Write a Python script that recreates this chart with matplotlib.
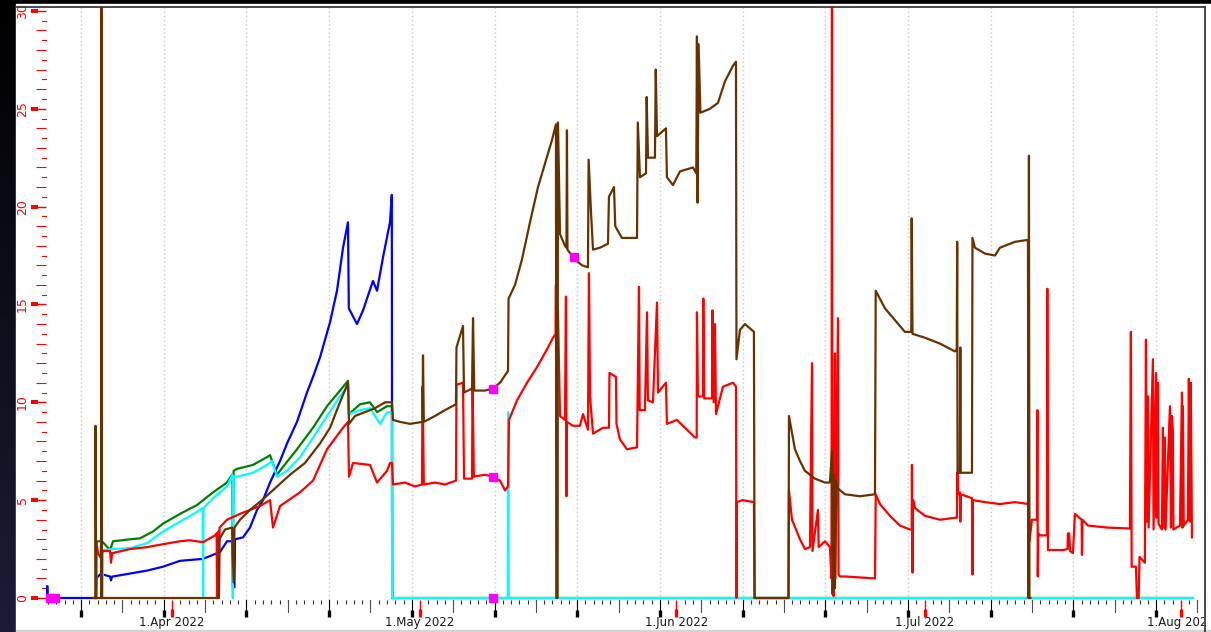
import numpy as np
import pandas as pd
import matplotlib
matplotlib.use("Agg")
import matplotlib.pyplot as plt
import matplotlib.dates as mdates
import matplotlib.transforms as mtransforms
from matplotlib.lines import Line2D
from matplotlib.patches import Rectangle
from matplotlib.colors import LinearSegmentedColormap
from matplotlib.ticker import MultipleLocator

BASE = pd.Timestamp("2022-04-01")

# (days since 1 Apr 2022, value)
brown_points = [
    (-9.55, 0), (-9.25, 0), (-9.25, 8.8), (-9.2, 0), (-8.55, 0), (-8.52, 31), (-8.48, 0),
    (5.68, 0), (5.72, 3.0), (6.41, 3.5), (7.26, 3.6), (7.45, 0.8), (7.55, 3.6), (8.22, 4.0),
    (9.43, 4.5), (10.88, 5.0), (12.45, 5.6), (14.27, 6.3), (16.08, 6.9), (17.90, 7.9),
    (19.11, 8.7), (20.31, 10.0), (21.28, 11.0), (21.40, 8.9), (22.13, 9.3), (23.34, 9.5),
    (24.55, 9.7), (25.76, 10.0), (26.60, 10.0), (26.72, 9.1), (27.57, 9.0), (28.78, 8.9),
    (30.30, 9.0), (30.35, 12.4), (30.45, 9.0), (31.80, 9.3), (33.01, 9.6), (34.34, 9.9),
    (34.40, 12.8), (35.19, 13.9), (35.31, 10.5), (36.28, 10.7), (36.40, 14.3), (36.55, 10.6),
    (37.85, 10.6), (38.81, 10.7), (39.66, 11.0), (40.63, 11.6), (40.70, 15.3), (41.48, 16.0),
    (42.32, 17.3), (43.29, 19.2), (44.26, 21.0), (45.10, 22.2), (45.95, 23.4), (46.43, 24.2),
    (46.47, 0), (46.63, 0), (46.67, 24.3), (46.92, 18.6), (47.52, 18.0), (47.70, 17.9),
    (47.76, 23.9), (47.82, 17.8), (48.73, 17.3), (49.58, 17.0), (50.30, 16.9), (50.38, 22.4),
    (50.67, 19.7), (50.91, 17.8), (51.75, 17.9), (52.72, 18.1), (52.84, 20.5), (53.45, 21.0),
    (53.60, 19.0), (54.41, 18.4), (56.23, 18.4), (56.33, 24.3), (56.59, 21.5), (57.32, 21.7),
    (57.40, 25.6), (57.56, 22.5), (58.40, 22.5), (58.50, 27.0), (58.65, 23.6), (59.73, 24.0),
    (59.85, 21.5), (60.58, 21.1), (61.43, 21.8), (63.00, 22.0), (63.40, 21.7), (63.48, 28.7),
    (63.56, 20.2), (63.68, 28.3), (63.90, 24.8), (65.06, 25.0), (66.02, 25.3), (66.87, 26.4),
    (67.84, 27.2), (68.20, 27.4), (68.26, 12.2), (68.68, 13.7), (69.29, 14.0), (70.37, 13.6),
    (70.45, 0), (74.55, 0), (74.61, 9.3), (75.33, 7.6), (75.94, 7.0), (76.54, 6.5),
    (77.75, 6.1), (78.96, 5.9), (79.56, 5.9), (79.81, 7.5), (79.93, 0.3), (80.05, 6.3),
    (80.17, 0.5), (80.29, 6.0), (80.53, 5.6), (81.38, 5.3), (83.19, 5.2), (85.01, 5.3),
    (85.10, 15.7), (86.22, 14.8), (87.42, 14.2), (88.63, 13.6), (89.40, 13.6), (89.45, 19.4),
    (89.55, 13.5), (91.05, 13.3), (92.87, 13.0), (94.68, 12.6), (94.90, 12.7), (94.95, 18.2),
    (95.00, 6.4), (95.28, 6.4), (95.33, 12.8), (95.38, 6.4), (96.74, 6.4), (96.80, 18.4),
    (97.10, 17.9), (98.31, 17.6), (99.52, 17.5), (100.12, 17.9), (101.93, 18.2), (103.51, 18.3),
    (103.57, 0), (103.63, 22.6), (103.69, 0), (103.8, 0),
]

red_points = [
    (-9.19, 0), (-9.15, 2.9), (-8.95, 2.3), (-8.71, 2.1), (-8.34, 2.4), (-7.50, 2.4),
    (-7.38, 1.8), (-7.25, 2.3), (-7.13, 2.3), (-5.08, 2.5), (-3.02, 2.6), (-1.09, 2.75),
    (0.97, 2.9), (2.18, 2.95), (3.75, 2.85), (5.20, 3.2), (5.40, 3.3), (5.44, 0), (5.50, 3.3),
    (5.62, 3.4), (5.66, 0), (5.75, 3.6), (6.65, 4.0), (8.22, 4.3), (10.64, 4.7), (11.85, 5.0),
    (12.21, 3.6), (13.06, 4.7), (15.48, 5.4), (17.05, 6.0), (18.74, 7.6), (20.68, 8.7),
    (21.28, 9.0), (21.40, 6.2), (21.89, 6.9), (23.94, 6.8), (24.79, 5.9), (26.0, 6.5),
    (26.36, 6.9), (26.60, 6.9), (26.72, 5.8), (28.17, 5.9), (29.38, 5.7), (30.23, 5.8),
    (30.30, 10.8), (30.45, 5.8), (31.80, 5.9), (33.01, 5.8), (34.34, 6.0), (34.40, 10.9),
    (35.19, 11.0), (35.31, 6.1), (36.28, 6.1), (36.35, 10.9), (36.50, 6.2), (37.85, 6.3),
    (38.81, 6.2), (39.66, 6.0), (40.27, 5.5), (40.63, 5.7), (40.75, 9.1), (41.72, 10.1),
    (42.93, 11.0), (44.14, 11.8), (45.34, 12.7), (46.07, 13.3), (46.40, 13.5), (46.43, 16.0),
    (46.46, 7.4), (46.55, 14.7), (46.67, 14.7), (46.92, 9.3), (47.52, 9.1), (47.64, 15.4),
    (47.70, 5.2), (47.76, 9.0), (48.49, 8.8), (49.33, 8.8), (49.70, 9.4), (50.30, 8.6),
    (50.42, 16.6), (50.55, 10.3), (50.91, 8.4), (52.12, 8.7), (52.84, 8.7), (52.90, 11.5),
    (53.69, 11.3), (53.75, 8.9), (54.17, 8.1), (55.02, 7.6), (56.23, 7.7), (56.47, 15.9),
    (56.55, 9.6), (57.19, 9.6), (57.44, 14.6), (57.55, 10.1), (58.16, 10.0), (58.65, 15.1),
    (58.77, 10.5), (59.73, 11.0), (59.85, 8.9), (61.06, 9.1), (62.27, 8.6), (63.24, 8.2),
    (63.45, 8.2), (63.48, 14.6), (63.60, 10.3), (64.21, 10.3), (64.25, 15.3), (64.35, 10.2),
    (65.30, 10.2), (65.35, 14.7), (65.50, 10.0), (65.66, 14.0), (65.78, 9.4), (66.63, 10.8),
    (67.84, 11.0), (68.20, 10.8), (68.26, 0), (68.32, 4.9), (69.0, 5.0), (70.37, 4.9),
    (70.45, 0), (74.55, 0), (74.61, 5.5), (74.97, 4.0), (75.94, 3.0), (76.54, 2.5),
    (77.15, 2.6), (77.39, 12.0), (77.45, 2.4), (78.11, 4.5), (78.2, 2.6), (78.96, 2.9),
    (79.56, 2.6), (79.75, 1.0), (79.81, 31), (79.85, 0.2), (79.93, 6.0), (80.0, 0.1),
    (80.17, 12.5), (80.22, 1.0), (80.53, 14.3), (80.60, 1.2), (80.77, 1.1), (81.38, 1.1),
    (83.19, 1.05), (85.01, 1.0), (85.10, 5.3), (85.61, 4.8), (86.82, 4.2), (88.03, 3.7),
    (89.24, 3.5), (89.45, 3.5), (89.48, 6.8), (89.55, 1.3), (89.62, 5.0), (89.84, 4.6),
    (91.05, 4.2), (92.87, 4.0), (94.68, 4.1), (94.92, 4.1), (94.97, 6.4), (95.04, 5.3),
    (95.28, 5.4), (95.33, 3.9), (95.40, 5.3), (96.74, 5.1), (96.80, 1.2), (96.86, 5.0),
    (98.31, 4.9), (100.12, 4.8), (101.93, 4.9), (103.63, 4.8), (103.70, 2.9), (103.99, 4.0),
    (104.59, 4.0), (104.65, 9.6), (104.70, 1.1), (104.75, 3.3), (104.96, 3.2), (105.80, 3.2),
    (105.85, 15.8), (105.93, 2.45), (107.74, 2.45), (108.30, 2.5), (108.34, 3.3), (108.5, 3.3),
    (108.6, 2.4), (108.95, 2.3), (109.19, 4.3), (110.0, 4.0), (110.04, 2.2), (110.1, 4.0),
    (110.76, 3.7), (113.06, 3.6), (115.84, 3.55), (115.96, 13.6), (116.05, 1.6), (116.57, 1.6),
    (116.69, 0), (116.9, 0), (117.0, 2.1), (117.65, 1.8), (117.78, 13.2), (117.85, 3.9),
    (118.02, 10.3), (118.10, 3.6), (118.62, 12.2), (118.70, 3.5), (118.98, 11.5), (119.05, 4.1),
    (119.23, 11.0), (119.30, 3.8), (119.71, 3.5), (119.83, 8.7), (119.95, 3.6), (120.07, 8.2),
    (120.15, 3.5), (120.68, 9.8), (120.80, 3.6), (120.92, 9.3), (121.04, 8.5), (121.10, 3.5),
    (121.89, 3.7), (122.13, 10.5), (122.20, 3.6), (122.25, 9.8), (122.35, 3.7), (122.85, 4.0),
    (122.97, 11.2), (123.10, 3.9), (123.20, 11.0), (123.34, 3.1),
]

blue_points = [
    (-15.2, 0), (-15.18, 0.6), (-15.05, 0.6), (-15.02, 0),
    (-9.19, 0), (-9.12, 1.0), (-8.95, 1.1), (-8.71, 1.2), (-8.34, 1.2), (-7.50, 1.1),
    (-7.38, 0.9), (-7.25, 1.1), (-7.13, 1.1), (-5.08, 1.25), (-3.02, 1.4), (-1.09, 1.6),
    (0.97, 1.9), (3.75, 2.0), (5.80, 2.35), (6.65, 2.9), (7.26, 2.9), (7.35, 0.55),
    (7.55, 0.55), (7.62, 3.0), (8.59, 3.1), (9.43, 3.6), (10.28, 4.5), (11.0, 5.0),
    (11.85, 5.9), (13.06, 7.0), (13.91, 7.9), (15.11, 9.0), (16.32, 10.5), (17.05, 11.3),
    (17.90, 12.3), (19.11, 14.1), (19.95, 15.7), (20.68, 17.9), (21.28, 19.2), (21.38, 14.8),
    (22.37, 14.0), (23.10, 14.7), (24.30, 16.2), (24.79, 15.7), (25.51, 17.4), (26.36, 19.2),
    (26.58, 20.6), (26.62, 0), (26.65, 0),
]

green_points = [
    (-9.19, 0), (-9.15, 2.85), (-8.95, 2.9), (-8.46, 2.9), (-7.50, 2.45), (-7.13, 2.9),
    (-5.08, 3.0), (-3.87, 3.05), (-2.30, 3.4), (-1.09, 3.8), (0.97, 4.3), (3.02, 4.75),
    (4.96, 5.4), (6.65, 5.9), (7.26, 6.3), (7.35, 2.2), (7.45, 6.5), (7.86, 6.6), (9.79, 6.8),
    (11.49, 7.2), (11.85, 7.3), (12.70, 6.3), (13.42, 6.7), (15.11, 7.6), (17.05, 8.7),
    (18.74, 9.8), (20.31, 10.6), (21.28, 11.1), (21.40, 9.4), (22.73, 9.9), (23.94, 10.0),
    (24.79, 9.5), (26.0, 9.8), (26.60, 9.8), (26.62, 0), (123.4, 0),
]

cyan_points = [
    (-9.19, 0), (-9.12, 2.35), (-8.95, 2.35), (-8.55, 2.3), (-8.50, 0), (-8.40, 0),
    (-8.34, 2.45), (-7.13, 2.5), (-5.08, 2.55), (-3.02, 2.8), (-1.09, 3.4), (0.97, 3.9),
    (3.02, 4.4), (3.70, 4.6), (3.75, 0), (3.80, 4.6), (4.96, 5.1), (6.65, 5.7), (7.30, 6.3),
    (7.35, 0), (7.45, 6.2), (7.86, 6.2), (9.79, 6.4), (11.49, 6.8), (12.09, 7.0), (12.70, 6.2),
    (13.91, 6.5), (15.48, 7.2), (17.05, 8.2), (18.74, 9.3), (20.31, 10.3), (21.28, 10.8),
    (21.40, 9.4), (22.73, 9.6), (23.94, 9.7), (25.15, 8.9), (26.0, 9.5), (26.60, 9.5),
    (26.62, 0), (40.60, 0), (40.65, 9.5), (40.72, 0), (123.4, 0),
]

marker_points = [(-14.75, 0), (-14.1, 0), (38.81, 10.7), (38.81, 6.2), (38.81, 0), (48.61, 17.4)]

month_starts = ["2022-04-01", "2022-05-01", "2022-06-01", "2022-07-01", "2022-08-01"]
month_labels = ["1.Apr 2022", "1.May 2022", "1.Jun 2022", "1.Jul 2022", "1.Aug 2022"]


def to_dates(days):
    return BASE + pd.to_timedelta(np.asarray(days, dtype=float), unit="D")


def plot_series(ax, points, color, z):
    days, vals = zip(*points)
    ax.plot(to_dates(days), vals, color=color, lw=1.6, zorder=z)


W, H = 1211, 632
fig = plt.figure(figsize=(W / 100, H / 100), dpi=100, facecolor="black")

# dark background + white panel
bg = fig.add_axes([0, 0, 1, 1], zorder=-10)
bg.axis("off")
bg.imshow(np.linspace(0, 1, 256).reshape(-1, 1), aspect="auto", extent=[0, 1, 0, 1],
          cmap=LinearSegmentedColormap.from_list("bg", ["#000000", "#1c1c36"]))
fig.patches.append(Rectangle((16 / W, 2 / H), (W - 16) / W, (H - 6) / H,
                             transform=fig.transFigure, color="white", zorder=-5))
fig.patches.append(Rectangle((16 / W, 0), (W - 16) / W, 2 / H,
                             transform=fig.transFigure, color="#d4d4d4", zorder=-5))

axw, axh = 1204 - 46, 600 - 7
ax = fig.add_axes([46 / W, (H - 600) / H, axw / W, axh / H])
ax.set_facecolor("white")
for s in ax.spines.values():
    s.set_visible(False)

plot_series(ax, green_points, "#008000", 2)
plot_series(ax, blue_points, "#0000ff", 3)
plot_series(ax, cyan_points, "#00ffff", 4)
plot_series(ax, red_points, "#ff0000", 5)
plot_series(ax, brown_points, "#663300", 6)
md, mv = zip(*marker_points)
ax.plot(to_dates(md), mv, ls="none", marker="s", ms=5.5, color="#ff00ff", mec="#ff00ff",
        zorder=7, clip_on=False)

ax.set_xlim(BASE + pd.Timedelta(days=-15.24), BASE + pd.Timedelta(days=124.8))
ax.set_ylim(-0.102, 30.2)

# x axis
months = pd.to_datetime(month_starts)
ax.set_xticks(mdates.date2num(months))
ax.set_xticklabels(month_labels)
ax.xaxis.set_minor_locator(mdates.DayLocator())
ax.tick_params(axis="x", which="major", length=10.8, width=1, color="red", pad=0.8,
               labelsize=8.5, labelcolor="#1a1a1a")
ax.tick_params(axis="x", which="minor", length=3, width=0.8, color="#303030")

# the last date label is cut by the panel border, as in the source chart
clip = mtransforms.TransformedBbox(mtransforms.Bbox([[0, 0], [1204 / W, 1]]), fig.transFigure)
for lbl in ax.get_xticklabels():
    lbl.set_clip_box(clip)
    lbl.set_clip_on(True)

xb = mtransforms.blended_transform_factory(ax.transData, ax.transAxes)
grid_dates = pd.date_range("2022-03-21", "2022-07-29", freq="10D")
for d in mdates.date2num(grid_dates):
    ax.axvline(d, color="#c8c8c8", lw=1, ls=(0, (1, 2)), zorder=0)
    ax.plot([d, d], [0, -10 / axh], transform=xb, color="black", lw=0.8, clip_on=False)
    ax.plot([d, d], [-10 / axh, -17 / axh], transform=xb, color="black", lw=2.4,
            solid_capstyle="butt", clip_on=False)
for d in mdates.date2num(grid_dates + pd.Timedelta(days=5)):
    ax.plot([d, d], [0, -12 / axh], transform=xb, color="#505050", lw=0.8, clip_on=False)
for d in mdates.date2num(months):
    ax.plot([d, d], [-9 / axh, -17 / axh], transform=xb, color="red", lw=2.4,
            solid_capstyle="butt", clip_on=False)

# y axis
ax.yaxis.set_major_locator(MultipleLocator(5))
ax.yaxis.set_minor_locator(MultipleLocator(1))
ax.tick_params(axis="y", which="major", length=10.8, width=1, color="red", pad=1.5,
               labelsize=9, labelcolor="red", labelrotation=90)
ax.tick_params(axis="y", which="minor", length=7.2, width=0.8, color="red")
for lbl in ax.get_yticklabels():
    lbl.set_va("center")

yb = mtransforms.blended_transform_factory(ax.transAxes, ax.transData)
for v in range(0, 31, 5):
    ax.plot([-15 / axw, -8 / axw], [v, v], transform=yb, color="red", lw=2.9,
            solid_capstyle="butt", clip_on=False)
for v in np.arange(0.5, 30, 1):
    ax.plot([-4 / axw, 0], [v, v], transform=yb, color="red", lw=0.8, clip_on=False)

# panel border
fig.add_artist(Line2D([16 / W, 1204.5 / W], [1 - 6.5 / H] * 2, transform=fig.transFigure,
                      color="#3c3c3c", lw=1.3, zorder=10))
fig.add_artist(Line2D([1204.5 / W] * 2, [0, 1 - 6.5 / H], transform=fig.transFigure,
                      color="#3c3c3c", lw=1.3, zorder=10))

fig.savefig("out.png", dpi=100, facecolor=fig.get_facecolor())
